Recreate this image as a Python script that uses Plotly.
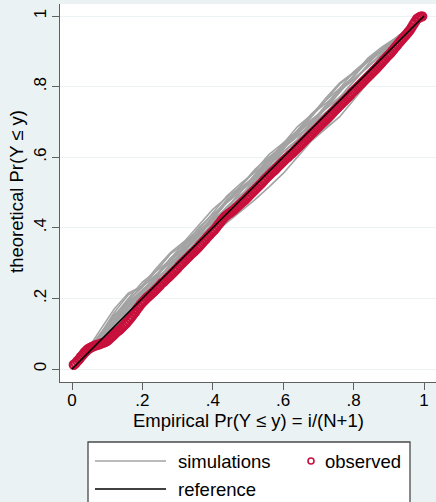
import plotly.graph_objects as go

# ---------------- data ----------------
obs_x = [0.005, 0.010, 0.015, 0.020, 0.025, 0.030, 0.035, 0.040, 0.045, 0.050,
         0.055, 0.060, 0.065, 0.070, 0.075, 0.080, 0.085, 0.090, 0.095, 0.100,
         0.105, 0.110, 0.115, 0.120, 0.125, 0.130, 0.135, 0.140, 0.145, 0.150,
         0.155, 0.160, 0.165, 0.170, 0.175, 0.180, 0.185, 0.190, 0.195, 0.200,
         0.205, 0.210, 0.215, 0.220, 0.225, 0.230, 0.235, 0.240, 0.245, 0.250,
         0.255, 0.260, 0.265, 0.270, 0.275, 0.280, 0.285, 0.290, 0.295, 0.300,
         0.305, 0.310, 0.315, 0.320, 0.325, 0.330, 0.335, 0.340, 0.345, 0.350,
         0.355, 0.360, 0.365, 0.370, 0.375, 0.380, 0.385, 0.390, 0.395, 0.400,
         0.405, 0.410, 0.415, 0.420, 0.425, 0.430, 0.435, 0.440, 0.445, 0.450,
         0.455, 0.460, 0.465, 0.470, 0.475, 0.480, 0.485, 0.490, 0.495, 0.500,
         0.505, 0.510, 0.515, 0.520, 0.525, 0.530, 0.535, 0.540, 0.545, 0.550,
         0.555, 0.560, 0.565, 0.570, 0.575, 0.580, 0.585, 0.590, 0.595, 0.600,
         0.605, 0.610, 0.615, 0.620, 0.625, 0.630, 0.635, 0.640, 0.645, 0.650,
         0.655, 0.660, 0.665, 0.670, 0.675, 0.680, 0.685, 0.690, 0.695, 0.700,
         0.705, 0.710, 0.715, 0.720, 0.725, 0.730, 0.735, 0.740, 0.745, 0.750,
         0.755, 0.760, 0.765, 0.770, 0.775, 0.780, 0.785, 0.790, 0.795, 0.800,
         0.805, 0.810, 0.815, 0.820, 0.825, 0.830, 0.835, 0.840, 0.845, 0.850,
         0.855, 0.860, 0.865, 0.870, 0.875, 0.880, 0.885, 0.890, 0.895, 0.900,
         0.905, 0.910, 0.915, 0.920, 0.925, 0.930, 0.935, 0.940, 0.945, 0.950,
         0.955, 0.960, 0.965, 0.970, 0.975, 0.980, 0.985, 0.990, 0.995]
obs_y = [0.012, 0.016, 0.022, 0.027, 0.034, 0.039, 0.046, 0.051, 0.056, 0.059,
         0.062, 0.064, 0.066, 0.068, 0.069, 0.071, 0.073, 0.075, 0.077, 0.080,
         0.084, 0.089, 0.093, 0.098, 0.103, 0.107, 0.111, 0.116, 0.121, 0.126,
         0.131, 0.137, 0.143, 0.149, 0.156, 0.162, 0.170, 0.176, 0.183, 0.189,
         0.194, 0.199, 0.204, 0.208, 0.213, 0.217, 0.222, 0.227, 0.232, 0.237,
         0.243, 0.247, 0.252, 0.257, 0.261, 0.266, 0.271, 0.276, 0.281, 0.286,
         0.292, 0.297, 0.302, 0.307, 0.312, 0.317, 0.322, 0.327, 0.331, 0.336,
         0.341, 0.346, 0.352, 0.357, 0.363, 0.368, 0.374, 0.379, 0.385, 0.390,
         0.395, 0.401, 0.408, 0.414, 0.421, 0.427, 0.432, 0.436, 0.440, 0.443,
         0.447, 0.451, 0.456, 0.460, 0.465, 0.469, 0.474, 0.478, 0.483, 0.488,
         0.493, 0.498, 0.503, 0.508, 0.513, 0.518, 0.523, 0.528, 0.534, 0.539,
         0.544, 0.549, 0.554, 0.559, 0.563, 0.568, 0.573, 0.578, 0.583, 0.588,
         0.593, 0.598, 0.602, 0.607, 0.611, 0.616, 0.621, 0.626, 0.631, 0.636,
         0.641, 0.646, 0.651, 0.656, 0.661, 0.666, 0.671, 0.676, 0.681, 0.686,
         0.691, 0.696, 0.701, 0.706, 0.711, 0.716, 0.721, 0.726, 0.731, 0.736,
         0.741, 0.746, 0.751, 0.756, 0.761, 0.766, 0.771, 0.776, 0.782, 0.787,
         0.792, 0.797, 0.802, 0.807, 0.812, 0.817, 0.822, 0.827, 0.832, 0.837,
         0.842, 0.847, 0.852, 0.857, 0.863, 0.868, 0.874, 0.879, 0.885, 0.890,
         0.895, 0.901, 0.907, 0.913, 0.919, 0.925, 0.931, 0.937, 0.942, 0.948,
         0.954, 0.960, 0.968, 0.976, 0.984, 0.992, 0.995, 0.998, 0.999]

sim_x = [0.00, 0.04, 0.08, 0.12, 0.16, 0.20, 0.24, 0.28, 0.32, 0.36, 0.40, 0.44, 0.48,
         0.52, 0.56, 0.60, 0.64, 0.68, 0.72, 0.76, 0.80, 0.84, 0.88, 0.92, 0.96, 1.00]
sim_01 = [0, .050, .110, .170, .215, .235, .268, .302, .352, .386, .416, .460, .494, .528, .576, .628, .660, .694, .744, .790, .820, .854, .896, .930, .965, 1.0]
sim_02 = [0, .046, .096, .146, .196, .232, .280, .326, .356, .388, .432, .480, .514, .546, .584, .630, .678, .722, .760, .794, .828, .872, .904, .934, .966, 1.0]
sim_03 = [0, .036, .070, .114, .162, .210, .246, .277, .306, .338, .382, .414, .448, .480, .516, .554, .600, .646, .682, .730, .776, .820, .864, .910, .956, 1.0]
sim_04 = [0, .045, .094, .128, .176, .224, .260, .308, .352, .400, .438, .470, .504, .552, .600, .634, .666, .700, .736, .784, .830, .874, .906, .936, .968, 1.0]
sim_05 = [0, .037, .072, .104, .146, .194, .228, .260, .304, .352, .397, .446, .490, .523, .554, .584, .614, .646, .680, .714, .762, .812, .860, .906, .954, 1.0]
sim_06 = [0, .048, .100, .150, .200, .246, .278, .308, .340, .376, .424, .474, .520, .566, .600, .630, .664, .714, .760, .806, .838, .868, .900, .934, .966, 1.0]
sim_07 = [0, .043, .077, .126, .174, .208, .240, .286, .336, .370, .403, .434, .470, .517, .566, .614, .648, .680, .712, .746, .794, .843, .886, .924, .962, 1.0]
sim_08 = [0, .044, .090, .136, .184, .218, .250, .296, .344, .390, .422, .454, .486, .530, .578, .614, .646, .677, .723, .770, .816, .862, .906, .938, .968, 1.0]
sim_09 = [0, .035, .066, .100, .148, .197, .245, .280, .312, .357, .408, .456, .504, .538, .570, .603, .634, .666, .698, .744, .790, .822, .866, .912, .957, 1.0]
sim_10 = [0, .046, .094, .144, .190, .238, .286, .330, .362, .408, .452, .486, .518, .562, .608, .640, .672, .718, .766, .810, .840, .870, .902, .932, .964, 1.0]
sim_11 = [0, .042, .086, .134, .178, .214, .262, .310, .344, .376, .408, .443, .490, .538, .584, .616, .650, .698, .746, .794, .842, .876, .908, .938, .968, 1.0]
sim_12 = [0, .037, .083, .130, .166, .197, .230, .274, .323, .368, .414, .446, .477, .510, .542, .586, .618, .650, .696, .744, .792, .826, .872, .917, .960, 1.0]
sim_13 = [0, .045, .096, .154, .188, .218, .266, .314, .346, .378, .426, .474, .510, .542, .574, .622, .670, .704, .736, .768, .814, .858, .890, .925, .962, 1.0]
sim_14 = [0, .044, .088, .123, .154, .203, .250, .298, .334, .382, .430, .478, .512, .544, .592, .640, .674, .706, .738, .770, .803, .834, .877, .923, .963, 1.0]
sim_15 = [0, .038, .074, .117, .166, .214, .256, .288, .320, .352, .384, .430, .477, .526, .560, .592, .624, .670, .702, .734, .768, .816, .864, .912, .957, 1.0]
sim_16 = [0, .048, .098, .160, .210, .234, .264, .312, .360, .394, .442, .490, .526, .558, .590, .638, .686, .720, .752, .784, .832, .880, .912, .938, .968, 1.0]
sim_17 = [0, .043, .088, .138, .188, .224, .256, .290, .338, .386, .422, .454, .502, .550, .594, .626, .658, .690, .738, .786, .822, .856, .890, .928, .964, 1.0]
sim_18 = [0, .036, .077, .126, .174, .222, .254, .286, .330, .363, .394, .440, .488, .534, .566, .597, .643, .690, .726, .757, .790, .834, .883, .920, .958, 1.0]
simulations = [sim_01, sim_02, sim_03, sim_04, sim_05, sim_06, sim_07, sim_08, sim_09,
               sim_10, sim_11, sim_12, sim_13, sim_14, sim_15, sim_16, sim_17, sim_18]

ref_x = [0.0, 1.0]
ref_y = [0.0, 1.0]

tick_vals = [0, 0.2, 0.4, 0.6, 0.8, 1]
tick_text = ["0", ".2", ".4", ".6", ".8", "1"]

x_title = "Empirical Pr(Y \u2264 y) = i/(N+1)"
y_title = "theoretical Pr(Y \u2264 y)"
legend_labels = ["simulations", "observed", "reference"]

# ---------------- style ----------------
W, H = 436, 502
ML, MR, MT, MB = 60, 0, 4, 120
BG = "#eaf2f3"
GRAY = "#a3a3a3"
RED = "#c8103c"
AXIS = "#5f5f5f"
FONT = "Liberation Sans, Arial, sans-serif"


def px(x):
    return (x - ML) / (W - ML - MR)


def py(y):
    return (H - MB - y) / (H - MT - MB)


fig = go.Figure()
for s in simulations:
    fig.add_trace(go.Scatter(x=sim_x, y=s, mode="lines",
                             line=dict(color=GRAY, width=1.6), showlegend=False,
                             hoverinfo="skip"))
fig.add_trace(go.Scatter(x=obs_x, y=obs_y, mode="markers",
                         marker=dict(symbol="circle-open", size=8, color=RED,
                                     line=dict(color=RED, width=2.3)),
                         showlegend=False))
fig.add_trace(go.Scatter(x=ref_x, y=ref_y, mode="lines",
                         line=dict(color="black", width=1.6), showlegend=False))

fig.update_layout(
    width=W, height=H,
    margin=dict(l=ML, r=MR, t=MT, b=MB, pad=0),
    paper_bgcolor=BG, plot_bgcolor="white",
    font=dict(family=FONT, size=17, color="black"),
    showlegend=False,
)
fig.update_xaxes(range=[-12 / 352, 1 + 12 / 352], tickvals=tick_vals, ticktext=tick_text,
                 showgrid=False, zeroline=False, showline=True, linecolor=AXIS, linewidth=1.3,
                 ticks="outside", ticklen=7, tickwidth=1.3, tickcolor=AXIS,
                 tickfont=dict(size=17), ticklabelstandoff=-5)
fig.update_yaxes(range=[-13 / 353, 1 + 12 / 353], tickvals=tick_vals, ticktext=tick_text,
                 showgrid=True, gridcolor=BG, gridwidth=1.3, zeroline=False,
                 showline=True, linecolor=AXIS, linewidth=1.3,
                 ticks="outside", ticklen=7, tickwidth=1.3, tickcolor=AXIS,
                 tickangle=-90, tickfont=dict(size=17), ticklabelstandoff=-1)

ann = [
    dict(text=x_title, x=px(248), y=py(420), xref="paper", yref="paper",
         showarrow=False, font=dict(size=18.5), xanchor="center", yanchor="middle"),
    dict(text=y_title, x=px(16), y=py(192), xref="paper", yref="paper",
         showarrow=False, font=dict(size=18.5), textangle=-90,
         xanchor="center", yanchor="middle"),
    dict(text=legend_labels[0], x=px(176), y=py(461), xref="paper", yref="paper",
         showarrow=False, font=dict(size=18.5), xanchor="left", yanchor="middle"),
    dict(text=legend_labels[1], x=px(323), y=py(461), xref="paper", yref="paper",
         showarrow=False, font=dict(size=18.5), xanchor="left", yanchor="middle"),
    dict(text=legend_labels[2], x=px(176), y=py(489), xref="paper", yref="paper",
         showarrow=False, font=dict(size=18.5), xanchor="left", yanchor="middle"),
]
shapes = [
    dict(type="rect", xref="paper", yref="paper", x0=px(88), x1=px(410), y0=py(515), y1=py(442),
         fillcolor="white", line=dict(color="#4a4a4a", width=1.3), layer="above"),
    dict(type="line", xref="paper", yref="paper", x0=px(95), x1=px(166), y0=py(461), y1=py(461),
         line=dict(color=GRAY, width=1.5)),
    dict(type="line", xref="paper", yref="paper", x0=px(95), x1=px(166), y0=py(489), y1=py(489),
         line=dict(color="black", width=1.6)),
    dict(type="circle", xref="paper", yref="paper", x0=px(308), x1=px(314), y0=py(464), y1=py(458),
         line=dict(color=RED, width=1.6)),
]
fig.update_layout(annotations=ann, shapes=shapes)
fig.write_html("out.html")
